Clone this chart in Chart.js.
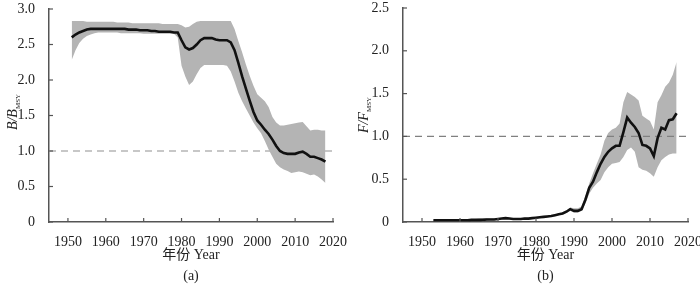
<!DOCTYPE html>
<html>
<head>
<meta charset="utf-8">
<script src="https://cdn.jsdelivr.net/npm/chart.js@4.4.1/dist/chart.umd.min.js"></script>
<style>
    body { margin: 0; background: #fff; }
    .wrap { position: relative; width: 700px; height: 285px; }
    canvas { position: absolute; top: 0; }
</style>
</head>
<body>
<div class="wrap">
    <canvas id="chart-b" width="350" height="285" style="left:0"></canvas>
    <canvas id="chart-f" width="350" height="285" style="left:350px"></canvas>
</div>
<script>
// Years shared by both panels
const years = [
    1951, 1952, 1953, 1954, 1955, 1956, 1957, 1958, 1959, 1960,
    1961, 1962, 1963, 1964, 1965, 1966, 1967, 1968, 1969, 1970,
    1971, 1972, 1973, 1974, 1975, 1976, 1977, 1978, 1979, 1980,
    1981, 1982, 1983, 1984, 1985, 1986, 1987, 1988, 1989, 1990,
    1991, 1992, 1993, 1994, 1995, 1996, 1997, 1998, 1999, 2000,
    2001, 2002, 2003, 2004, 2005, 2006, 2007, 2008, 2009, 2010,
    2011, 2012, 2013, 2014, 2015, 2016, 2017, 2018
];

// (a) B/Bmsy median and uncertainty band
const bMedian = [
    2.60, 2.64, 2.67, 2.69, 2.71, 2.72, 2.72, 2.72, 2.72, 2.72,
    2.72, 2.72, 2.72, 2.72, 2.72, 2.71, 2.71, 2.71, 2.70, 2.70,
    2.70, 2.69, 2.69, 2.68, 2.68, 2.68, 2.68, 2.67, 2.67, 2.56,
    2.46, 2.43, 2.45, 2.50, 2.56, 2.59, 2.59, 2.59, 2.57, 2.56,
    2.56, 2.56, 2.53, 2.42, 2.24, 2.05, 1.88, 1.71, 1.55, 1.43,
    1.37, 1.30, 1.24, 1.16, 1.07, 1.00, 0.97, 0.96, 0.96, 0.96,
    0.98, 0.99, 0.96, 0.92, 0.92, 0.90, 0.88, 0.85
];
const bUpper = [
    2.83, 2.83, 2.83, 2.83, 2.82, 2.82, 2.82, 2.82, 2.82, 2.82,
    2.82, 2.82, 2.81, 2.81, 2.81, 2.81, 2.80, 2.80, 2.80, 2.80,
    2.80, 2.80, 2.80, 2.80, 2.79, 2.79, 2.79, 2.79, 2.79, 2.77,
    2.74, 2.75, 2.79, 2.82, 2.83, 2.83, 2.83, 2.83, 2.83, 2.83,
    2.83, 2.83, 2.83, 2.72, 2.55, 2.39, 2.22, 2.06, 1.92, 1.80,
    1.75, 1.70, 1.62, 1.48, 1.40, 1.36, 1.36, 1.37, 1.38, 1.39,
    1.40, 1.41, 1.35, 1.29, 1.30, 1.30, 1.29, 1.29
];
const bLower = [
    2.28, 2.42, 2.52, 2.58, 2.62, 2.64, 2.66, 2.67, 2.67, 2.67,
    2.67, 2.67, 2.67, 2.66, 2.66, 2.66, 2.66, 2.66, 2.66, 2.65,
    2.65, 2.65, 2.65, 2.65, 2.65, 2.65, 2.65, 2.65, 2.60, 2.20,
    2.05, 1.93, 1.98, 2.08, 2.17, 2.21, 2.21, 2.21, 2.21, 2.21,
    2.21, 2.20, 2.12, 1.98, 1.82, 1.70, 1.60, 1.50, 1.40, 1.32,
    1.25, 1.14, 1.02, 0.92, 0.82, 0.77, 0.74, 0.72, 0.69, 0.70,
    0.71, 0.70, 0.68, 0.66, 0.67, 0.64, 0.60, 0.55
];

// (b) F/Fmsy median and uncertainty band (no estimate for 1951-52 and 2018)
const fMedian = [
    null, null, 0.02, 0.02, 0.02, 0.02, 0.02, 0.02, 0.02, 0.02,
    0.02, 0.02, 0.025, 0.025, 0.025, 0.025, 0.03, 0.03, 0.03, 0.035,
    0.04, 0.045, 0.04, 0.035, 0.035, 0.035, 0.04, 0.04, 0.045, 0.05,
    0.055, 0.06, 0.065, 0.07, 0.08, 0.09, 0.10, 0.12, 0.15, 0.13,
    0.13, 0.15, 0.26, 0.40, 0.47, 0.58, 0.68, 0.76, 0.82, 0.86,
    0.89, 0.89, 1.05, 1.22, 1.16, 1.11, 1.04, 0.90, 0.89, 0.86,
    0.77, 0.98, 1.10, 1.08, 1.19, 1.20, 1.27, null
];
const fUpper = [
    null, null, 0.03, 0.03, 0.03, 0.03, 0.03, 0.03, 0.03, 0.03,
    0.03, 0.03, 0.035, 0.035, 0.04, 0.045, 0.045, 0.04, 0.04, 0.045,
    0.05, 0.055, 0.05, 0.045, 0.045, 0.045, 0.05, 0.05, 0.055, 0.06,
    0.065, 0.07, 0.075, 0.08, 0.09, 0.10, 0.115, 0.135, 0.17, 0.16,
    0.16, 0.18, 0.30, 0.45, 0.57, 0.68, 0.79, 0.95, 1.04, 1.08,
    1.10, 1.15, 1.40, 1.52, 1.49, 1.46, 1.42, 1.24, 1.21, 1.18,
    1.08, 1.40, 1.48, 1.58, 1.63, 1.72, 1.87, null
];
const fLower = [
    null, null, 0.01, 0.01, 0.01, 0.01, 0.01, 0.01, 0.01, 0.01,
    0.01, 0.01, 0.015, 0.015, 0.015, 0.01, 0.015, 0.02, 0.02, 0.025,
    0.03, 0.035, 0.03, 0.025, 0.025, 0.025, 0.03, 0.03, 0.035, 0.04,
    0.045, 0.05, 0.055, 0.06, 0.07, 0.08, 0.09, 0.105, 0.13, 0.11,
    0.11, 0.13, 0.22, 0.33, 0.40, 0.45, 0.49, 0.58, 0.64, 0.68,
    0.69, 0.70, 0.76, 0.84, 0.87, 0.82, 0.64, 0.61, 0.60, 0.57,
    0.53, 0.64, 0.72, 0.76, 0.79, 0.80, 0.80, null
];

// Reference line at ratio = 1
const refYears = [1945, 2020];
const refValues = [1.0, 1.0];

// Tick labels
const xTicks = [1950, 1960, 1970, 1980, 1990, 2000, 2010, 2020];
const bTicks = [0, 0.5, 1.0, 1.5, 2.0, 2.5, 3.0];
const fTicks = [0, 0.5, 1.0, 1.5, 2.0, 2.5];

const FONT = '"Liberation Serif", "Noto Sans CJK SC", serif';
const AXIS_COLOR = '#555';
const BAND_COLOR = '#b4b4b4';

const toPoints = (xs, ys) => xs.map((x, i) => ({ x, y: ys[i] }));

// Draws the inward tick marks, the axis titles and the panel tag
const decorPlugin = {
    id: 'decor',
    afterDraw(chart, args, opts) {
        const { ctx, chartArea, scales } = chart;
        ctx.save();
        ctx.strokeStyle = AXIS_COLOR;
        ctx.lineWidth = 1.2;
        scales.x.ticks.forEach(t => {
            const px = scales.x.getPixelForValue(t.value);
            ctx.beginPath();
            ctx.moveTo(px, chartArea.bottom);
            ctx.lineTo(px, chartArea.bottom - 4);
            ctx.stroke();
        });
        scales.y.ticks.forEach(t => {
            const py = scales.y.getPixelForValue(t.value);
            ctx.beginPath();
            ctx.moveTo(chartArea.left, py);
            ctx.lineTo(chartArea.left + 4, py);
            ctx.stroke();
        });

        const cx = (chartArea.left + chartArea.right) / 2;
        ctx.fillStyle = '#222';
        ctx.textAlign = 'center';
        ctx.textBaseline = 'middle';
        ctx.font = '14px ' + FONT;
        ctx.fillText('年份 Year', cx, 255);
        ctx.fillText(opts.tag, cx, 276);

        // rotated y title with subscript
        ctx.translate(opts.titleX, opts.titleY);
        ctx.rotate(-Math.PI / 2);
        ctx.textAlign = 'left';
        ctx.textBaseline = 'alphabetic';
        ctx.font = 'italic 14px ' + FONT;
        const mainW = ctx.measureText(opts.main).width;
        ctx.font = '7px ' + FONT;
        const subW = ctx.measureText('MSY').width;
        const start = -(mainW + subW) / 2;
        ctx.font = 'italic 14px ' + FONT;
        ctx.fillText(opts.main, start, 5);
        ctx.font = '7px ' + FONT;
        ctx.fillText('MSY', start + mainW, 8);
        ctx.restore();
    }
};

function renderPanel(canvasId, p) {
    return new Chart(document.getElementById(canvasId), {
        type: 'line',
        data: {
            datasets: [
                { data: toPoints(years, p.upper), borderWidth: 0, pointRadius: 0, fill: '+1', backgroundColor: BAND_COLOR, order: 3 },
                { data: toPoints(years, p.lower), borderWidth: 0, pointRadius: 0, fill: false, order: 3 },
                { data: toPoints(refYears, refValues), borderColor: p.refColor, borderWidth: 1.3, borderDash: [7, 5], pointRadius: 0, fill: false, order: 2 },
                { data: toPoints(years, p.median), borderColor: '#111', borderWidth: 2.6, pointRadius: 0, fill: false, order: 1 }
            ]
        },
        options: {
            responsive: false,
            animation: false,
            events: [],
            layout: { padding: { left: 0, right: p.padRight, top: p.padTop, bottom: 0 } },
            plugins: {
                legend: { display: false },
                tooltip: { enabled: false },
                decor: { tag: p.tag, main: p.main, titleX: p.titleX, titleY: p.titleY }
            },
            scales: {
                x: {
                    type: 'linear',
                    min: 1945,
                    max: 2020,
                    afterBuildTicks: s => { s.ticks = xTicks.map(v => ({ value: v })); },
                    afterFit: s => { s.height = 63; s.paddingLeft = 0; s.paddingRight = 0; },
                    grid: { display: false },
                    border: { display: true, color: AXIS_COLOR, width: 1.5 },
                    ticks: { color: '#222', padding: 4, maxRotation: 0, font: { family: FONT, size: 14 }, callback: v => String(v) }
                },
                y: {
                    min: 0,
                    max: p.yMax,
                    afterBuildTicks: s => { s.ticks = p.yTicks.map(v => ({ value: v })); },
                    afterFit: s => { s.width = p.yAxisWidth; s.paddingTop = 0; s.paddingBottom = 0; },
                    grid: { display: false },
                    border: { display: true, color: AXIS_COLOR, width: 1.5 },
                    ticks: { color: '#222', padding: 6, font: { family: FONT, size: 14 }, callback: v => v === 0 ? '0' : v.toFixed(1) }
                }
            }
        },
        plugins: [decorPlugin]
    });
}

renderPanel('chart-b', {
    upper: bUpper, lower: bLower, median: bMedian, refColor: '#b5b5b5',
    yMax: 3.0, yTicks: bTicks, yAxisWidth: 49, padRight: 17, padTop: 9,
    tag: '(a)', main: 'B/B', titleX: 12, titleY: 112
});
renderPanel('chart-f', {
    upper: fUpper, lower: fLower, median: fMedian, refColor: '#808080',
    yMax: 2.5, yTicks: fTicks, yAxisWidth: 53, padRight: 12, padTop: 8,
    tag: '(b)', main: 'F/F', titleX: 13, titleY: 115
});
</script>
</body>
</html>
